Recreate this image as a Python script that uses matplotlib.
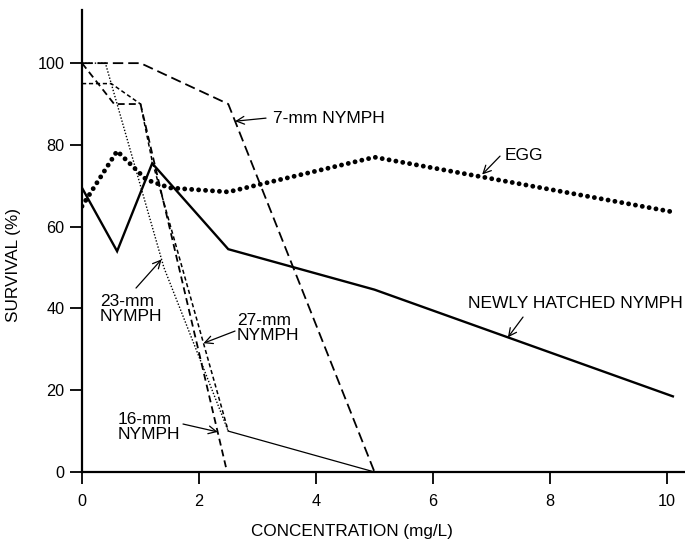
import numpy as np
import matplotlib
matplotlib.use("Agg")
import matplotlib.pyplot as plt

plt.rcParams['font.family'] = ['Liberation Sans', 'DejaVu Sans']
plt.rcParams['lines.scale_dashes'] = False

# ---- data ----
egg_x = [0, 0.6, 1.1, 1.5, 2.5, 5.0, 10.1]
egg_y = [65, 78.5, 71.5, 69.5, 68.5, 77, 63.6]

newly_x = [0, 0.6, 1.2, 2.5, 5.0, 10.1]
newly_y = [69.5, 54, 75.5, 54.5, 44.6, 18.5]

n7_x = [0, 1.0, 2.5, 5.0]
n7_y = [100, 100, 90, 0]

n16_x = [0, 0.55, 1.0, 2.48]
n16_y = [100, 90, 90, 0]

n27_x = [0, 0.5, 1.0, 1.2, 2.5, 5.0]
n27_y = [95, 95, 90, 76, 10, 0]

n23_x = [0, 0.4, 1.0, 1.4, 2.5]
n23_y = [100, 100, 70, 50, 10]

x_ticks = [0, 2, 4, 6, 8, 10]
y_ticks = [0, 20, 40, 60, 80, 100]

# ---- figure ----
W, H = 685, 552
fig = plt.figure(figsize=(W / 100, H / 100), dpi=100)
ax = fig.add_axes([82 / W, 80 / H, 602 / W, 462 / H])
ax.set_xlim(0, 10.29)
ax.set_ylim(0, 113)

k = 'black'
ax.plot(n7_x, n7_y, color=k, lw=1.3, linestyle=(0, (7.5, 3.6)))
ax.plot(n16_x, n16_y, color=k, lw=1.3, linestyle=(0, (5.0, 3.0)))
ax.plot(n27_x[:-1], n27_y[:-1], color=k, lw=1.1, linestyle=(0, (3.0, 2.0)))
ax.plot(n27_x[-2:], n27_y[-2:], color=k, lw=0.9)
ax.plot(n23_x, n23_y, color=k, lw=1.0, linestyle=(0, (1.0, 1.3)))
ax.plot(newly_x, newly_y, color=k, lw=1.7, solid_joinstyle='miter')
egg_line, = ax.plot(egg_x, egg_y, color=k, lw=3.5, linestyle=(0, (0.01, 5.0)))
egg_line.set_dash_capstyle('round')

for s in ['top', 'right']:
    ax.spines[s].set_visible(False)
for s in ['left', 'bottom']:
    ax.spines[s].set_linewidth(1.6)

ax.set_xticks(x_ticks)
ax.set_yticks(y_ticks)
ax.tick_params(axis='both', direction='out', length=8.5, width=1.3, labelsize=11.7)
ax.tick_params(axis='x', pad=7)
ax.tick_params(axis='y', pad=4)

ax.set_xlabel('CONCENTRATION (mg/L)', fontsize=12.3)
ax.set_ylabel('SURVIVAL (%)', fontsize=12.3)
ax.xaxis.set_label_coords(0.448, -0.128)
ax.yaxis.set_label_coords(-0.113, 0.448)
ax.xaxis.label.set_va('center')
ax.yaxis.label.set_va('center')


def dx(px):
    return (px - 82) / 58.5


def dy(py):
    return (472 - py) / 4.09


arrow = dict(arrowstyle='->', color=k, lw=0.9, shrinkA=0, shrinkB=0,
             mutation_scale=14)
fs = 12.5

# 7-mm
ax.text(dx(273), dy(118), '7-mm NYMPH', fontsize=fs, ha='left', va='center')
ax.annotate('', xy=(np.interp(85.8, n7_y[::-1], n7_x[::-1]), 85.8),
            xytext=(dx(266), dy(118)), arrowprops=arrow)
# EGG
ax.text(dx(505), dy(155), 'EGG', fontsize=fs, ha='left', va='center')
ax.annotate('', xy=(6.84, np.interp(6.84, egg_x, egg_y) + 0.6),
            xytext=(dx(500), dy(156)), arrowprops=arrow)
# Newly hatched
ax.text(dx(468), dy(303), 'NEWLY HATCHED NYMPH', fontsize=fs, ha='left', va='center')
ax.annotate('', xy=(7.28, np.interp(7.28, newly_x, newly_y)),
            xytext=(dx(523), dy(317)), arrowprops=arrow)
# 23-mm
ax.text(dx(100), dy(309), '23-mm\nNYMPH', fontsize=fs, ha='left', va='center',
        linespacing=1.0)
ax.annotate('', xy=(np.interp(52, n23_y[::-1], n23_x[::-1]), 52),
            xytext=(dx(136), dy(288)), arrowprops=arrow)
# 27-mm
ax.text(dx(237), dy(328), '27-mm\nNYMPH', fontsize=fs, ha='left', va='center',
        linespacing=1.0)
ax.annotate('', xy=(np.interp(31.5, [10, 76], [2.5, 1.2]), 31.5),
            xytext=(dx(235), dy(331)), arrowprops=arrow)
# 16-mm
ax.text(dx(118), dy(427), '16-mm\nNYMPH', fontsize=fs, ha='left', va='center',
        linespacing=1.0)
ax.annotate('', xy=(np.interp(9.8, [0, 90], [2.48, 1.0]), 9.8),
            xytext=(dx(183), dy(424)), arrowprops=arrow)

fig.savefig('out.png', dpi=100)
